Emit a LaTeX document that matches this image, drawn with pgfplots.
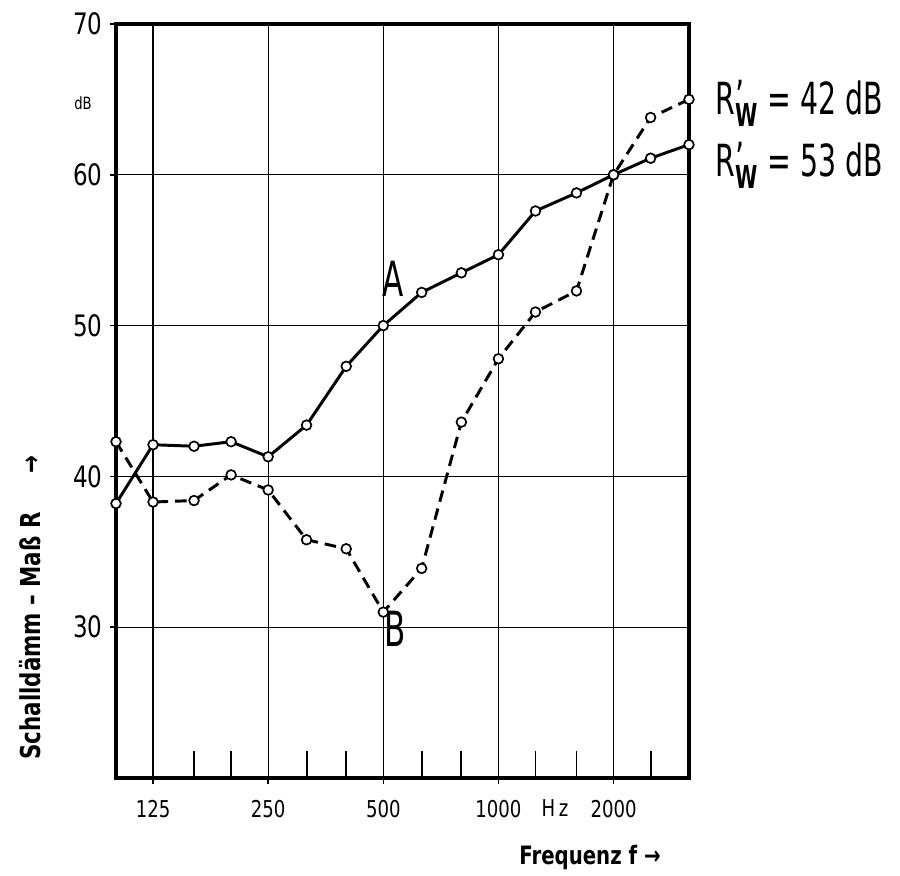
\documentclass[border=0pt]{standalone}
\usepackage{fontspec}
\setmainfont{DejaVu Sans}[FakeStretch=0.78]
\newfontfamily\narrow{DejaVu Sans}[FakeStretch=0.64]
\usepackage{pgfplots}
\pgfplotsset{compat=1.18}

\newcommand{\Rw}{R\kern0.02em\rlap{\smash{\raisebox{0.05em}{’}}}\smash{\raisebox{-0.28em}{\fontsize{15}{15}\selectfont\bfseries W}}}

\begin{document}
\begin{tikzpicture}
\begin{axis}[
  scale only axis, width=9.55cm, height=12.567cm,
  xmode=log, xmin=100, xmax=3150, ymin=20, ymax=70,
  xtick={125,250,500,1000,2000}, xticklabels={125,250,500,1000,2000},
  minor xtick={},
  ytick={30,40,50,60,70},
  xtick pos=bottom, ytick pos=left,
  grid=major, grid style={line width=0.6pt, black},
  axis line style={line width=1.8pt},
  tick align=outside, major tick length=0.1cm,
  tick style={line width=0.7pt, black},
  xticklabel style={font=\fontsize{11}{13}\selectfont, yshift=-0.15cm},
  yticklabel style={font=\fontsize{14}{16}\selectfont},
  /pgf/number format/assume math mode=true,
  clip marker paths=false,
]
% third-octave tick marks along the bottom
\addplot[ycomb, line width=0.9pt, no marks] coordinates
  {(160,21.8) (200,21.8) (315,21.8) (400,21.8) (630,21.8) (800,21.8) (1250,21.8) (1600,21.8) (2500,21.8)};
% curve A, solid
\addplot[line width=1.4pt, mark=*, mark size=2.3pt,
  mark options={fill=white, line width=0.8pt, solid}] coordinates
  {(100,38.2) (125,42.1) (160,42.0) (200,42.3) (250,41.3) (315,43.4) (400,47.3) (500,50.0)
   (630,52.2) (800,53.5) (1000,54.7) (1250,57.6) (1600,58.8) (2000,60.0) (2500,61.1) (3150,62.0)};
% curve B, dashed
\addplot[line width=1.4pt, dash pattern=on 5.5pt off 3.3pt, mark=*, mark size=2.3pt,
  mark options={fill=white, line width=0.8pt, solid}] coordinates
  {(100,42.3) (125,38.3) (160,38.4) (200,40.1) (250,39.1) (315,35.8) (400,35.2) (500,31.0)
   (630,33.9) (800,43.6) (1000,47.8) (1250,50.9) (1600,52.3) (2000,60.0) (2500,63.8) (3150,65.0)};
\node[font=\narrow\fontsize{23}{23}\selectfont] at (axis cs:530,53.1) {A};
\node[font=\narrow\fontsize{23}{23}\selectfont] at (axis cs:536,29.9) {B};
\end{axis}
\node[anchor=east, font=\fontsize{8}{8}\selectfont] at (-0.28,11.25) {dB};
\node[font=\fontsize{11}{13}\selectfont] at (7.317,-0.5) {H\,z};
\node[font=\bfseries\fontsize{12}{14}\selectfont] at (7.9,-1.317) {Frequenz f →};
\node[rotate=90, anchor=west, font=\bfseries\fontsize{13}{15}\selectfont] at (-1.433,0.183)
  {Schalldämm -- Maß R\hspace{1.4em}→};
\node[anchor=west, inner sep=0pt, font=\narrow\fontsize{21}{23}\selectfont] at (9.983,11.333) {\Rw{} = 42 dB};
\node[anchor=west, inner sep=0pt, font=\narrow\fontsize{21}{23}\selectfont] at (9.983,10.3) {\Rw{} = 53 dB};
\pgfresetboundingbox
\path[use as bounding box] (-1.933,-1.617) rectangle (13.067,12.967);
\end{tikzpicture}
\end{document}
